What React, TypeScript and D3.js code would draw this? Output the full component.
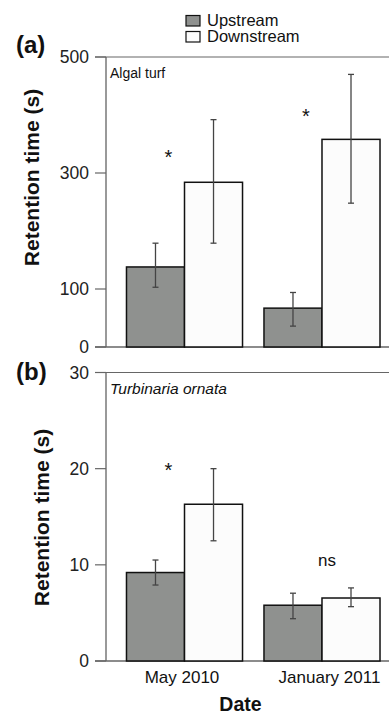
import React from 'react'
import * as d3 from 'd3'

// Data
const dates = ['May 2010', 'January 2011']
const series = ['Upstream', 'Downstream']
const seriesFill = ['#8f918f', '#fcfcfc']

// (a) Algal turf
const turfMean = [[138, 284], [67, 358]]
const turfLow = [[103, 179], [36, 248]]
const turfHigh = [[179, 392], [94, 470]]
const turfTicks = [0, 100, 300, 500]
const turfMarks = [{ date: 'May 2010', value: 340, text: '*' }, { date: 'January 2011', value: 410, text: '*' }]

// (b) Turbinaria ornata
const turbMean = [[9.2, 16.3], [5.8, 6.55]]
const turbLow = [[7.9, 12.5], [4.4, 5.65]]
const turbHigh = [[10.5, 20.0], [7.05, 7.6]]
const turbTicks = [0, 10, 20, 30]
const turbMarks = [{ date: 'May 2010', value: 20.6, text: '*' }, { date: 'January 2011', value: 10.5, text: 'ns' }]

const font = 'Liberation Sans, Arial, Helvetica, sans-serif'

const x = d3.scaleBand<string>()
  .domain(dates)
  .range([106, 400.5])
  .paddingInner(0.156)
  .paddingOuter(0.149)

const xs = d3.scaleBand<string>().domain(series).range([0, x.bandwidth()]).padding(0)

type PanelProps = {
  y: d3.ScaleLinear<number, number>
  ticks: number[]
  mean: number[][]
  low: number[][]
  high: number[][]
  marks: { date: string; value: number; text: string }[]
  letter: string
  letterY: number
  title: string
  titleSize: number
  italic: boolean
  labelX: number
  labelY: number
}

const Panel = ({ y, ticks, mean, low, high, marks, letter, letterY, title, titleSize, italic, labelX, labelY }: PanelProps) => {
  const [y0, y1] = y.range()
  const x0 = 106
  return (
    <g>
      {/* frame: left axis, top and bottom lines */}
      <line x1={x0} x2={x0} y1={y1} y2={y0} stroke="#555" strokeWidth={1.2} />
      <line x1={95} x2={389} y1={y1} y2={y1} stroke="#666" strokeWidth={1.2} />
      <line x1={95} x2={389} y1={y0} y2={y0} stroke="#666" strokeWidth={1.5} />
      {ticks.map(t => (
        <g key={t} transform={`translate(0,${y(t)})`}>
          <line x1={95} x2={x0} stroke="#666" strokeWidth={1.2} />
          <text x={89} dy="0.36em" textAnchor="end" fontSize={17.5} fill="#222">{t}</text>
        </g>
      ))}
      {dates.map((d, i) => (
        <g key={d} transform={`translate(${x(d)},0)`}>
          {series.map((s, j) => (
            <rect key={s}
              x={xs(s)} width={xs.bandwidth()}
              y={y(mean[i][j])} height={y(0) - y(mean[i][j])}
              fill={seriesFill[j]} stroke="#111" strokeWidth={1.5} />
          ))}
          {series.map((s, j) => {
            const cx = (xs(s) as number) + xs.bandwidth() / 2
            return (
              <g key={s} stroke="#444" strokeWidth={1.3}>
                <line x1={cx} x2={cx} y1={y(high[i][j])} y2={y(low[i][j])} />
                <line x1={cx - 3} x2={cx + 3} y1={y(high[i][j])} y2={y(high[i][j])} />
                <line x1={cx - 3} x2={cx + 3} y1={y(low[i][j])} y2={y(low[i][j])} />
              </g>
            )
          })}
        </g>
      ))}
      {marks.map(m => (
        <text key={m.date} x={(x(m.date) as number) + (m.text === '*' ? 42 : 63)} y={y(m.value)}
          textAnchor="middle" dy={m.text === '*' ? '0.7em' : '0.35em'}
          fontSize={m.text === '*' ? 20 : 17} fill="#111">{m.text}</text>
      ))}
      <text x={110} y={y1 + 21} fontSize={titleSize} fontStyle={italic ? 'italic' : 'normal'} fill="#111">{title}</text>
      <text x={16} y={letterY} fontSize={24} fontWeight="bold" fill="#111">{letter}</text>
      <text transform={`translate(${labelX},${labelY}) rotate(-90)`} textAnchor="middle"
        fontSize={21} fontWeight="bold" fill="#111">Retention time (s)</text>
    </g>
  )
}

const App = () => {
  const yTurf = d3.scaleLinear().domain([0, 500]).range([347, 57])
  const yTurb = d3.scaleLinear().domain([0, 30]).range([661, 372.5])

  return (
    <svg width={389} height={714} style={{ position: 'absolute', left: 0, top: 0, fontFamily: font }}>
      <rect width={389} height={714} fill="#fff" />
      {/* legend */}
      {series.map((s, j) => (
        <g key={s} transform={`translate(186,${15 + j * 16})`}>
          <rect x={0} y={0.5} width={14} height={10.5} fill={seriesFill[j]} stroke="#111" strokeWidth={1.2} />
          <text x={21} y={11} fontSize={16.5} fill="#111">{s}</text>
        </g>
      ))}
      <Panel y={yTurf} ticks={turfTicks} mean={turfMean} low={turfLow} high={turfHigh}
        marks={turfMarks} letter="(a)" letterY={53} title="Algal turf" titleSize={14} italic={false}
        labelX={38.5} labelY={177.5} />
      <Panel y={yTurb} ticks={turbTicks} mean={turbMean} low={turbLow} high={turbHigh}
        marks={turbMarks} letter="(b)" letterY={380} title="Turbinaria ornata" titleSize={15.5} italic={true}
        labelX={48.5} labelY={517.5} />
      {dates.map(d => (
        <text key={d} x={(x(d) as number) + x.bandwidth() / 2 + (d === 'May 2010' ? -2.5 : 7.5)} y={683}
          textAnchor="middle" fontSize={17} fill="#111">{d}</text>
      ))}
      <text x={240.5} y={711} textAnchor="middle" fontSize={19.5} fontWeight="bold" fill="#111">Date</text>
    </svg>
  )
}

export default App
